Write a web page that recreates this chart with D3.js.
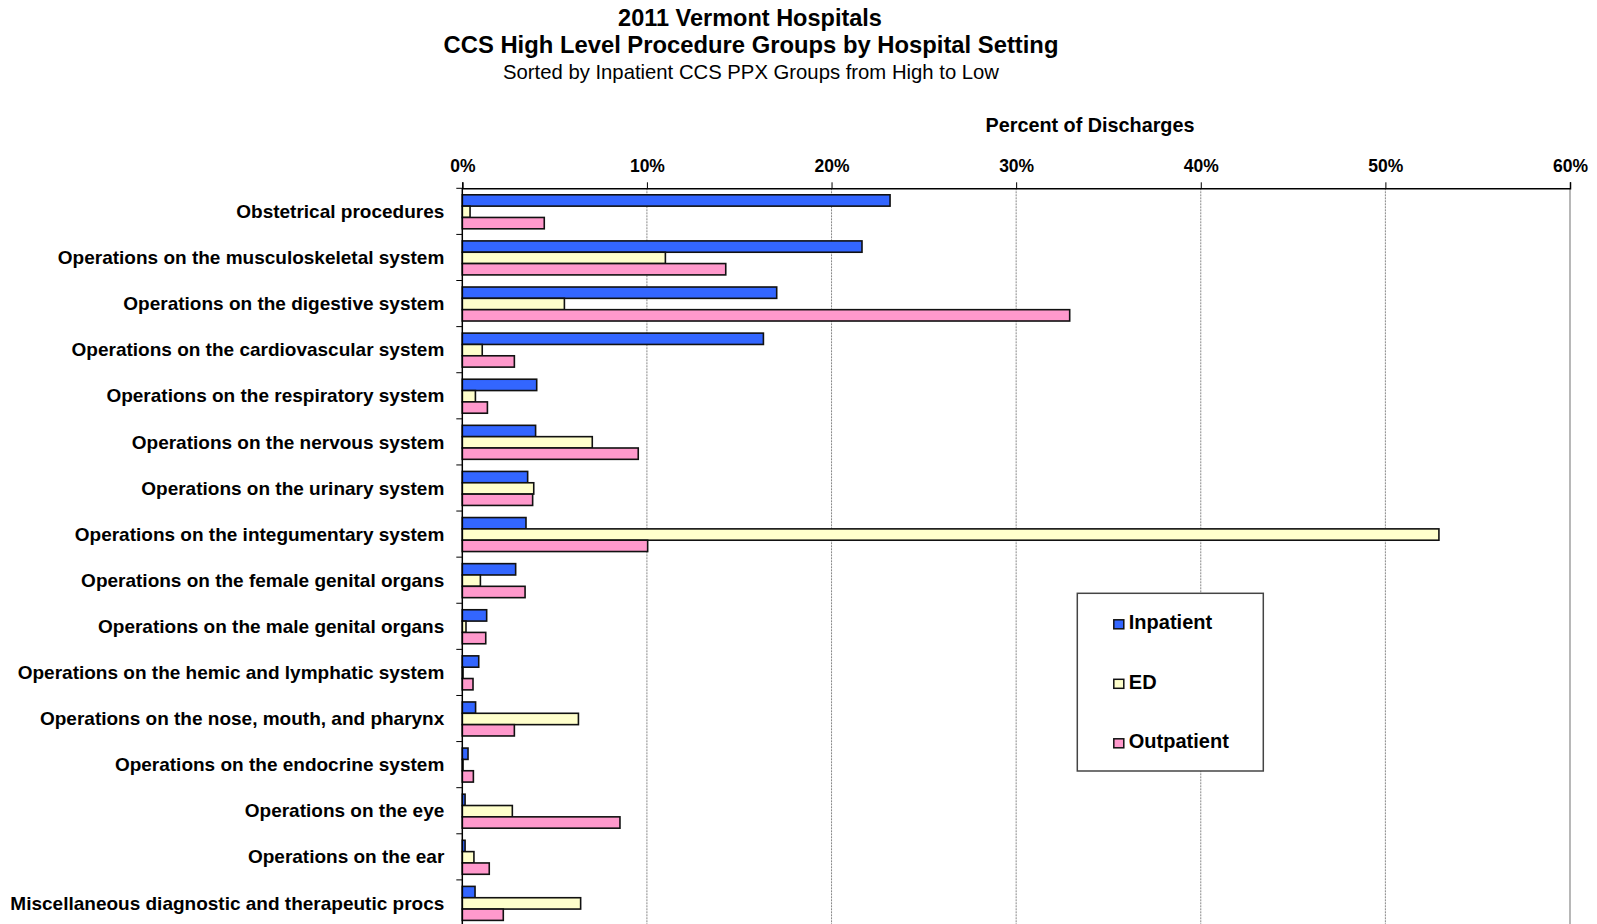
<!DOCTYPE html>
<html><head><meta charset="utf-8">
<script src="https://cdn.jsdelivr.net/npm/d3@7"></script>
<style>body{margin:0;background:#fff}svg{display:block}text{font-family:"Liberation Sans",Arial,sans-serif}</style>
</head><body>
<script>
const categories = [
  "Obstetrical procedures",
  "Operations on the musculoskeletal system",
  "Operations on the digestive system",
  "Operations on the cardiovascular system",
  "Operations on the respiratory system",
  "Operations on the nervous system",
  "Operations on the urinary system",
  "Operations on the integumentary system",
  "Operations on the female genital organs",
  "Operations on the male genital organs",
  "Operations on the hemic and lymphatic system",
  "Operations on the nose, mouth, and pharynx",
  "Operations on the endocrine system",
  "Operations on the eye",
  "Operations on the ear",
  "Miscellaneous diagnostic and therapeutic procs"
];
const seriesNames = ["Inpatient", "ED", "Outpatient"];
const inpatient  = [23.17, 21.65, 17.03, 16.31, 4.03, 3.97, 3.54, 3.45, 2.89, 1.32, 0.89, 0.72, 0.31, 0.15, 0.15, 0.69];
const ed         = [0.42, 11.0, 5.53, 1.08, 0.71, 7.04, 3.87, 52.9, 0.98, 0.20, 0.04, 6.29, 0.04, 2.71, 0.63, 6.41];
const outpatient = [4.44, 14.27, 32.9, 2.82, 1.36, 9.53, 3.81, 10.04, 3.40, 1.27, 0.58, 2.82, 0.60, 8.54, 1.46, 2.22];
const xTicks = [0, 10, 20, 30, 40, 50, 60];
const colors = ["#3366FF", "#FFFFCC", "#FF99CC"];

const W = 1597, H = 924;
const svg = d3.select("body").append("svg").attr("width", W).attr("height", H);

const x = d3.scaleLinear().domain([0, 60]).range([462.3, 1570]);
const y = d3.scaleBand().domain(categories).range([188.3, 926]).padding(0);
const inner = d3.scaleBand().domain(seriesNames).range([6.5, 40.5]).padding(0);
const seriesVals = [inpatient, ed, outpatient];

function label(g, tx, ty, str, size, weight, anchor) {
  return g.append("text").attr("x", tx).attr("y", ty)
    .attr("text-anchor", anchor).attr("font-size", size).attr("font-weight", weight)
    .attr("fill", "#000").text(str);
}

// titles
label(svg, 750, 26, "2011 Vermont Hospitals", 23.5, "bold", "middle");
label(svg, 751, 53.3, "CCS High Level Procedure Groups by Hospital Setting", 23.8, "bold", "middle");
label(svg, 751, 79, "Sorted by Inpatient CCS PPX Groups from High to Low", 20.3, "normal", "middle");
label(svg, 1090, 132.3, "Percent of Discharges", 19.8, "bold", "middle");

// gridlines
svg.append("g").selectAll("line").data(xTicks.filter(d => d > 0 && d < 60)).join("line")
  .attr("x1", d => x(d)).attr("x2", d => x(d)).attr("y1", 188.3).attr("y2", H)
  .attr("stroke", "#888").attr("stroke-width", 1).attr("stroke-dasharray", "2,1");
svg.append("line").attr("x1", x(60)).attr("x2", x(60)).attr("y1", 188.3).attr("y2", H)
  .attr("stroke", "#888").attr("stroke-width", 1.2);

// bars
const groups = svg.append("g").selectAll("g").data(categories).join("g")
  .attr("transform", c => `translate(0,${y(c)})`);
groups.each(function(c, i) {
  d3.select(this).selectAll("rect").data(seriesNames.map((s, k) => ({s, k, v: seriesVals[k][i]}))).join("rect")
    .attr("x", x(0)).attr("y", d => inner(d.s))
    .attr("width", d => x(d.v) - x(0)).attr("height", inner.bandwidth())
    .attr("fill", d => colors[d.k]).attr("stroke", "#111").attr("stroke-width", 1.6);
});

// x axis (top)
const xAxis = d3.axisTop(x).tickValues(xTicks).tickFormat(d => d + "%").tickSize(6).tickPadding(4);
const gx = svg.append("g").attr("transform", "translate(0,188.3)").call(xAxis);
gx.select(".domain").attr("stroke", "#000").attr("stroke-width", 1.5);
gx.selectAll(".tick line").attr("stroke", "#000").attr("stroke-width", 1);
gx.selectAll(".tick text").attr("font-size", 17.5).attr("font-weight", "bold").attr("fill", "#000")
  .attr("font-family", '"Liberation Sans",Arial,sans-serif').attr("y", -16.6).attr("dy", "0");

// y axis
const yAxis = d3.axisLeft(y).tickSize(0).tickPadding(18);
const gy = svg.append("g").attr("transform", `translate(${x(0)},0)`).call(yAxis);
gy.select(".domain").remove();
gy.selectAll(".tick text").attr("font-size", 19).attr("font-weight", "bold").attr("fill", "#000")
  .attr("font-family", '"Liberation Sans",Arial,sans-serif').attr("dy", "0.35em");
// category separator ticks
svg.append("g").selectAll("line").data(categories).join("line")
  .attr("x1", x(0) - 6).attr("x2", x(0)).attr("y1", c => y(c)).attr("y2", c => y(c))
  .attr("stroke", "#000").attr("stroke-width", 1);
svg.append("line").attr("x1", x(0)).attr("x2", x(0)).attr("y1", 188.3).attr("y2", H)
  .attr("stroke", "#000").attr("stroke-width", 1.5);

// legend
const lg = svg.append("g").attr("transform", "translate(1077.3,593.3)");
lg.append("rect").attr("width", 186).attr("height", 177.7).attr("fill", "#fff")
  .attr("stroke", "#444").attr("stroke-width", 1.5);
seriesNames.forEach((s, k) => {
  const yy = 36 + k * 59.5;
  lg.append("rect").attr("x", 36.5).attr("y", yy - 9.5).attr("width", 10).attr("height", 9)
    .attr("fill", colors[k]).attr("stroke", "#111").attr("stroke-width", 1.5);
  lg.append("text").attr("x", 51.5).attr("y", yy).attr("font-size", 20).attr("font-weight", "bold")
    .attr("fill", "#000").text(s);
});
</script>
</body></html>
